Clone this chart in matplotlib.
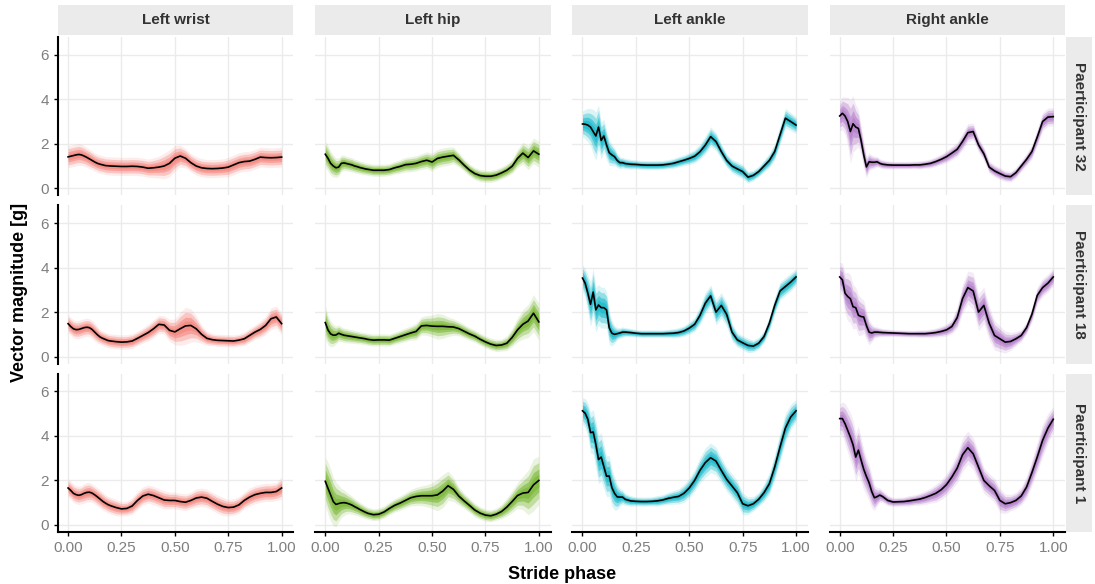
import matplotlib
matplotlib.use("Agg")
import matplotlib.pyplot as plt
from matplotlib.patches import Rectangle
import numpy as np

plt.rcParams["font.family"] = ["Liberation Sans", "DejaVu Sans"]

# facet labels
sensors = ["Left wrist", "Left hip", "Left ankle", "Right ankle"]
participants = ["Paerticipant 32", "Paerticipant 18", "Paerticipant 1"]
colors = ["#F4837A", "#76B52F", "#12B8C9", "#B27BC9"]

# stride phase grid (finer at the start of the stride)
phase = [0.0, 0.0125, 0.025, 0.0375, 0.05, 0.0625, 0.075, 0.0875, 0.1, 0.1125, 0.125, 0.1375, 0.15, 0.1625, 0.175, 0.1875, 0.2,
         0.225, 0.25, 0.275, 0.3, 0.325, 0.35, 0.375, 0.4, 0.425, 0.45, 0.475, 0.5, 0.525, 0.55, 0.575, 0.6,
         0.625, 0.65, 0.675, 0.7, 0.725, 0.75, 0.775, 0.8, 0.825, 0.85, 0.875, 0.9, 0.925, 0.95, 0.975, 1.0]

# mean vector magnitude [g] per participant / sensor
wrist_32 = [1.41, 1.44, 1.47, 1.50, 1.52, 1.50, 1.45, 1.39, 1.32, 1.25, 1.18, 1.12, 1.08, 1.05, 1.02, 1.01, 1.0,
            0.99, 0.98, 0.98, 0.99, 0.98, 0.95, 0.90, 0.92, 0.95, 1.0, 1.12, 1.35, 1.45, 1.35, 1.15, 1.0,
            0.92, 0.89, 0.88, 0.89, 0.91, 0.95, 1.05, 1.15, 1.2, 1.22, 1.3, 1.4, 1.38, 1.37, 1.38, 1.40]
hip_32 = [1.53, 1.35, 1.12, 1.0, 0.92, 0.95, 1.12, 1.14, 1.11, 1.08, 1.05, 1.0, 0.97, 0.93, 0.90, 0.87, 0.85,
          0.81, 0.81, 0.81, 0.84, 0.92, 0.98, 1.06, 1.08, 1.12, 1.2, 1.26, 1.18, 1.34, 1.40, 1.44, 1.48,
          1.28, 1.04, 0.82, 0.66, 0.57, 0.54, 0.54, 0.59, 0.69, 0.81, 0.99, 1.34, 1.58, 1.38, 1.68, 1.53]
ankle_32 = [2.89, 2.88, 2.84, 2.75, 2.55, 2.35, 2.75, 2.15, 2.35, 1.95, 1.6, 1.5, 1.42, 1.25, 1.15, 1.15, 1.11,
            1.08, 1.07, 1.05, 1.04, 1.04, 1.04, 1.05, 1.08, 1.12, 1.19, 1.26, 1.34, 1.44, 1.64, 1.94, 2.32,
            2.1, 1.65, 1.25, 1.0, 0.87, 0.75, 0.5, 0.58, 0.75, 1.0, 1.25, 1.65, 2.4, 3.15, 3.0, 2.84]
rankle_32 = [3.25, 3.37, 3.25, 3.0, 2.55, 2.9, 2.75, 2.69, 2.15, 1.5, 0.96, 1.19, 1.17, 1.17, 1.19, 1.12, 1.08,
             1.05, 1.04, 1.04, 1.04, 1.04, 1.05, 1.05, 1.08, 1.12, 1.2, 1.3, 1.42, 1.58, 1.75, 2.1, 2.5,
             2.55, 1.95, 1.55, 0.95, 0.78, 0.66, 0.55, 0.52, 0.7, 1.0, 1.3, 1.65, 2.3, 3.0, 3.2, 3.22]

wrist_18 = [1.48, 1.35, 1.25, 1.21, 1.22, 1.26, 1.3, 1.32, 1.3, 1.22, 1.1, 0.98, 0.88, 0.82, 0.77, 0.72, 0.70,
            0.67, 0.65, 0.66, 0.70, 0.82, 0.95, 1.08, 1.25, 1.45, 1.42, 1.18, 1.11, 1.25, 1.38, 1.40, 1.25,
            1.0, 0.82, 0.76, 0.73, 0.72, 0.71, 0.70, 0.74, 0.8, 0.95, 1.1, 1.22, 1.4, 1.7, 1.78, 1.48]
hip_18 = [1.53, 1.2, 1.02, 0.96, 0.97, 1.05, 1.0, 0.96, 0.94, 0.92, 0.9, 0.88, 0.86, 0.84, 0.82, 0.80, 0.77,
          0.74, 0.75, 0.75, 0.74, 0.82, 0.9, 0.98, 1.06, 1.13, 1.38, 1.40, 1.37, 1.36, 1.36, 1.34, 1.33,
          1.26, 1.14, 1.02, 0.92, 0.78, 0.66, 0.56, 0.5, 0.52, 0.6, 0.86, 1.2, 1.45, 1.6, 1.95, 1.56]
ankle_18 = [3.53, 3.3, 2.85, 2.35, 2.9, 2.1, 2.32, 2.2, 2.2, 2.1, 1.3, 1.05, 1.0, 1.03, 1.06, 1.1, 1.1,
            1.08, 1.05, 1.03, 1.03, 1.03, 1.03, 1.03, 1.04, 1.05, 1.08, 1.15, 1.28, 1.45, 1.85, 2.4, 2.73,
            2.0, 2.3, 1.9, 1.1, 0.75, 0.62, 0.5, 0.47, 0.6, 0.9, 1.5, 2.3, 2.95, 3.15, 3.35, 3.58]
rankle_18 = [3.58, 3.45, 2.85, 2.7, 2.6, 2.24, 2.2, 1.86, 1.8, 1.78, 1.4, 1.1, 1.06, 1.1, 1.1, 1.09, 1.08,
             1.07, 1.06, 1.05, 1.04, 1.03, 1.03, 1.03, 1.03, 1.05, 1.08, 1.13, 1.2, 1.35, 1.75, 2.6, 3.1,
             2.95, 2.0, 2.3, 1.5, 0.95, 0.8, 0.65, 0.68, 0.8, 0.95, 1.3, 1.9, 2.75, 3.1, 3.3, 3.58]

wrist_1 = [1.66, 1.55, 1.42, 1.36, 1.33, 1.36, 1.42, 1.46, 1.47, 1.43, 1.35, 1.26, 1.16, 1.06, 0.98, 0.91, 0.86,
           0.78, 0.72, 0.74, 0.85, 1.1, 1.3, 1.38, 1.32, 1.22, 1.12, 1.10, 1.10, 1.05, 1.02, 1.10, 1.21,
           1.25, 1.2, 1.06, 0.93, 0.83, 0.78, 0.80, 0.90, 1.1, 1.25, 1.36, 1.42, 1.46, 1.46, 1.5, 1.66]
hip_1 = [1.96, 1.65, 1.35, 1.05, 0.92, 0.96, 0.99, 1.0, 0.98, 0.94, 0.89, 0.82, 0.76, 0.69, 0.63, 0.57, 0.52,
         0.46, 0.48, 0.58, 0.74, 0.88, 0.98, 1.10, 1.22, 1.28, 1.31, 1.31, 1.31, 1.35, 1.52, 1.76, 1.6,
         1.3, 1.08, 0.88, 0.67, 0.53, 0.44, 0.41, 0.48, 0.6, 0.8, 1.05, 1.32, 1.43, 1.46, 1.8, 2.0]
ankle_1 = [5.13, 5.02, 4.75, 4.15, 4.18, 3.62, 2.94, 3.05, 2.62, 2.19, 2.2, 1.68, 1.42, 1.26, 1.25, 1.25, 1.15,
           1.08, 1.06, 1.05, 1.05, 1.06, 1.08, 1.12, 1.19, 1.24, 1.28, 1.42, 1.66, 2.0, 2.45, 2.8, 3.02,
           2.87, 2.45, 2.05, 1.75, 1.45, 0.95, 0.86, 0.95, 1.15, 1.45, 1.85, 2.6, 3.5, 4.35, 4.85, 5.13]
rankle_1 = [4.78, 4.78, 4.55, 4.25, 3.95, 3.6, 3.05, 3.36, 2.92, 2.5, 2.18, 1.9, 1.5, 1.22, 1.27, 1.34, 1.28,
            1.1, 1.03, 1.04, 1.05, 1.08, 1.12, 1.16, 1.23, 1.32, 1.42, 1.58, 1.81, 2.15, 2.55, 3.15, 3.47,
            3.2, 2.6, 2.0, 1.76, 1.55, 1.1, 0.95, 1.0, 1.1, 1.3, 1.7, 2.35, 3.05, 3.8, 4.35, 4.75]

# spread of the individual strides around the mean (half width, g)
sd_wrist_32 = [0.25, 0.25, 0.25, 0.25, 0.25, 0.24, 0.23, 0.22, 0.22, 0.21, 0.2, 0.2, 0.2, 0.2, 0.2, 0.2, 0.2,
               0.2, 0.2, 0.2, 0.2, 0.2, 0.2, 0.2, 0.22, 0.25, 0.3, 0.32, 0.3, 0.25, 0.22, 0.2, 0.2,
               0.2, 0.2, 0.2, 0.2, 0.2, 0.22, 0.22, 0.22, 0.22, 0.22, 0.22, 0.22, 0.22, 0.22, 0.22, 0.22]
sd_hip_32 = [0.3, 0.3, 0.28, 0.25, 0.22, 0.2, 0.18, 0.16, 0.15, 0.15, 0.15, 0.14, 0.14, 0.13, 0.13, 0.12, 0.12,
             0.12, 0.12, 0.12, 0.12, 0.13, 0.14, 0.15, 0.16, 0.16, 0.17, 0.18, 0.2, 0.2, 0.2, 0.2, 0.18,
             0.15, 0.12, 0.12, 0.12, 0.12, 0.12, 0.12, 0.12, 0.12, 0.13, 0.15, 0.2, 0.25, 0.28, 0.3, 0.3]
sd_ankle_32 = [0.3, 0.35, 0.4, 0.45, 0.55, 0.6, 0.55, 0.45, 0.4, 0.35, 0.3, 0.25, 0.2, 0.15, 0.12, 0.1, 0.1,
               0.09, 0.08, 0.08, 0.08, 0.08, 0.08, 0.08, 0.08, 0.09, 0.1, 0.1, 0.12, 0.14, 0.16, 0.2, 0.22,
               0.2, 0.16, 0.14, 0.14, 0.15, 0.15, 0.12, 0.1, 0.1, 0.12, 0.15, 0.18, 0.2, 0.22, 0.2, 0.18]
sd_rankle_32 = [0.35, 0.4, 0.45, 0.6, 0.8, 0.7, 0.55, 0.45, 0.35, 0.3, 0.25, 0.2, 0.15, 0.12, 0.1, 0.08, 0.08,
                0.07, 0.06, 0.06, 0.06, 0.06, 0.06, 0.07, 0.07, 0.08, 0.09, 0.1, 0.12, 0.14, 0.15, 0.18, 0.2,
                0.18, 0.15, 0.14, 0.12, 0.12, 0.12, 0.1, 0.1, 0.1, 0.1, 0.12, 0.15, 0.18, 0.2, 0.2, 0.2]

sd_wrist_18 = [0.2, 0.2, 0.2, 0.2, 0.2, 0.2, 0.2, 0.2, 0.2, 0.2, 0.2, 0.18, 0.15, 0.15, 0.15, 0.15, 0.15,
               0.15, 0.15, 0.15, 0.15, 0.15, 0.16, 0.18, 0.2, 0.2, 0.2, 0.25, 0.3, 0.4, 0.45, 0.4, 0.3,
               0.2, 0.15, 0.12, 0.12, 0.12, 0.12, 0.12, 0.12, 0.14, 0.15, 0.15, 0.18, 0.2, 0.25, 0.25, 0.25]
sd_hip_18 = [0.4, 0.35, 0.3, 0.25, 0.2, 0.18, 0.16, 0.15, 0.15, 0.14, 0.14, 0.13, 0.13, 0.12, 0.12, 0.12, 0.12,
             0.12, 0.12, 0.12, 0.12, 0.12, 0.13, 0.14, 0.15, 0.18, 0.2, 0.22, 0.25, 0.3, 0.28, 0.22, 0.18,
             0.15, 0.14, 0.13, 0.12, 0.12, 0.12, 0.12, 0.12, 0.12, 0.15, 0.2, 0.28, 0.35, 0.4, 0.45, 0.45]
sd_ankle_18 = [0.3, 0.35, 0.45, 0.55, 0.6, 0.55, 0.5, 0.5, 0.5, 0.45, 0.4, 0.3, 0.2, 0.12, 0.1, 0.1, 0.08,
               0.07, 0.06, 0.06, 0.06, 0.06, 0.06, 0.06, 0.07, 0.08, 0.09, 0.1, 0.12, 0.15, 0.2, 0.25, 0.25,
               0.3, 0.3, 0.28, 0.2, 0.15, 0.15, 0.15, 0.12, 0.12, 0.12, 0.15, 0.18, 0.2, 0.2, 0.2, 0.18]
sd_rankle_18 = [0.35, 0.4, 0.5, 0.6, 0.6, 0.55, 0.5, 0.5, 0.45, 0.4, 0.35, 0.3, 0.2, 0.12, 0.1, 0.08, 0.07,
                0.06, 0.05, 0.05, 0.05, 0.05, 0.05, 0.06, 0.06, 0.07, 0.08, 0.1, 0.12, 0.15, 0.25, 0.35, 0.4,
                0.45, 0.45, 0.45, 0.4, 0.35, 0.3, 0.25, 0.2, 0.15, 0.12, 0.12, 0.15, 0.18, 0.2, 0.2, 0.2]

sd_wrist_1 = [0.2, 0.2, 0.2, 0.2, 0.2, 0.2, 0.22, 0.22, 0.22, 0.2, 0.2, 0.2, 0.2, 0.2, 0.18, 0.18, 0.18,
              0.18, 0.15, 0.15, 0.18, 0.2, 0.2, 0.2, 0.2, 0.2, 0.2, 0.18, 0.18, 0.18, 0.18, 0.18, 0.2,
              0.2, 0.2, 0.2, 0.2, 0.2, 0.18, 0.18, 0.18, 0.18, 0.2, 0.2, 0.2, 0.2, 0.2, 0.2, 0.25]
sd_hip_1 = [0.6, 0.65, 0.65, 0.6, 0.55, 0.45, 0.35, 0.3, 0.25, 0.22, 0.2, 0.18, 0.16, 0.15, 0.14, 0.13, 0.12,
            0.12, 0.12, 0.12, 0.13, 0.14, 0.15, 0.16, 0.18, 0.2, 0.22, 0.25, 0.3, 0.38, 0.4, 0.35, 0.28,
            0.2, 0.16, 0.15, 0.14, 0.13, 0.12, 0.12, 0.12, 0.15, 0.2, 0.25, 0.3, 0.4, 0.55, 0.65, 0.6]
sd_ankle_1 = [0.3, 0.35, 0.4, 0.5, 0.55, 0.6, 0.6, 0.6, 0.55, 0.5, 0.5, 0.45, 0.4, 0.3, 0.2, 0.15, 0.12,
              0.1, 0.08, 0.08, 0.08, 0.08, 0.1, 0.1, 0.12, 0.14, 0.16, 0.2, 0.22, 0.25, 0.3, 0.35, 0.35,
              0.33, 0.3, 0.28, 0.28, 0.28, 0.25, 0.2, 0.15, 0.15, 0.2, 0.25, 0.3, 0.35, 0.35, 0.3, 0.25]
sd_rankle_1 = [0.35, 0.4, 0.5, 0.55, 0.6, 0.6, 0.6, 0.6, 0.55, 0.5, 0.45, 0.45, 0.4, 0.3, 0.2, 0.15, 0.12,
               0.1, 0.08, 0.08, 0.08, 0.1, 0.1, 0.12, 0.14, 0.16, 0.2, 0.22, 0.25, 0.3, 0.35, 0.4, 0.4,
               0.38, 0.35, 0.3, 0.28, 0.28, 0.28, 0.22, 0.18, 0.18, 0.2, 0.25, 0.3, 0.35, 0.4, 0.35, 0.3]

means = [[wrist_32, hip_32, ankle_32, rankle_32],
         [wrist_18, hip_18, ankle_18, rankle_18],
         [wrist_1, hip_1, ankle_1, rankle_1]]
spreads = [[sd_wrist_32, sd_hip_32, sd_ankle_32, sd_rankle_32],
           [sd_wrist_18, sd_hip_18, sd_ankle_18, sd_rankle_18],
           [sd_wrist_1, sd_hip_1, sd_ankle_1, sd_rankle_1]]

fig, axes = plt.subplots(3, 4, figsize=(10.95, 5.84), dpi=100)
fig.subplots_adjust(left=0.053, right=0.9726, top=0.9366, bottom=0.089, wspace=0.093, hspace=0.063)

x = np.array(phase)
for i in range(3):
    for j in range(4):
        ax = axes[i, j]
        m = np.array(means[i][j])
        s = np.array(spreads[i][j]) + 0.04
        # layered bands give the look of many overlapping strides
        for k, a in [(1.7, 0.15), (1.25, 0.35), (0.8, 0.55), (0.45, 0.6)]:
            ax.fill_between(x, m - k * s, m + k * s, color=colors[j], alpha=a, lw=0)
        ax.plot(x, m, color="black", lw=1.2)

        ax.set_xlim(-0.047, 1.055)
        ax.set_ylim(-0.32, 6.8)
        ax.set_xticks([0, 0.25, 0.5, 0.75, 1.0])
        ax.set_yticks([0, 2, 4, 6])
        ax.grid(True, color="#EBEBEB", lw=1.0)
        ax.set_axisbelow(True)
        for sp in ax.spines.values():
            sp.set_visible(False)
        ax.tick_params(axis="both", colors="#7F7F7F", labelsize=11, length=0)

        if j == 0:
            ax.spines["left"].set_visible(True)
            ax.spines["left"].set_linewidth(1.5)
            ax.tick_params(axis="y", length=3, width=1, color="black")
        else:
            ax.set_yticklabels([])
        if i == 2:
            ax.spines["bottom"].set_visible(True)
            ax.spines["bottom"].set_linewidth(1.5)
            ax.tick_params(axis="x", length=3, width=1, color="black")
            ax.set_xticklabels(["0.00", "0.25", "0.50", "0.75", "1.00"])
        else:
            ax.set_xticklabels([])

        # strips
        if i == 0:
            ax.add_patch(Rectangle((0, 1.013), 1, 0.19, transform=ax.transAxes,
                                   facecolor="#EBEBEB", edgecolor="none", clip_on=False))
            ax.text(0.5, 1.108, sensors[j], transform=ax.transAxes, ha="center", va="center",
                    fontsize=11, fontweight="bold", color="#333333")
        if j == 3:
            ax.add_patch(Rectangle((1.004, 0), 0.112, 1, transform=ax.transAxes,
                                   facecolor="#EBEBEB", edgecolor="none", clip_on=False))
            ax.text(1.06, 0.5, participants[i], transform=ax.transAxes, ha="center", va="center",
                    rotation=-90, fontsize=11, fontweight="bold", color="#333333")

fig.text(0.018, 0.5, "Vector magnitude [g]", rotation=90, ha="center", va="center",
         fontsize=13, fontweight="bold")
fig.text(0.513, 0.017, "Stride phase", ha="center", va="center", fontsize=13, fontweight="bold")

fig.savefig("out.png", dpi=100)
